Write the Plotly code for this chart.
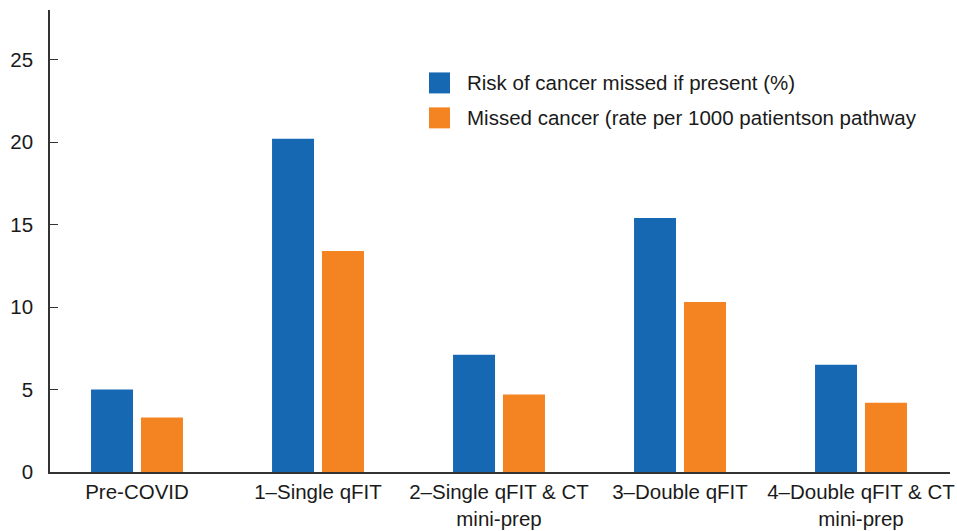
import plotly.graph_objects as go

categories = ["Pre-COVID", "1–Single qFIT", "2–Single qFIT & CT mini-prep",
              "3–Double qFIT", "4–Double qFIT & CT mini-prep"]
tick_labels = ["Pre-COVID", "1–Single qFIT", "2–Single qFIT & CT<br>mini-prep",
               "3–Double qFIT", "4–Double qFIT & CT<br>mini-prep"]
risk_missed = [5.0, 20.2, 7.1, 15.4, 6.5]
missed_rate = [3.3, 13.4, 4.7, 10.3, 4.2]
series_names = ["Risk of cancer missed if present (%)",
                "Missed cancer (rate per 1000 patientson pathway"]
y_ticks = [0, 5, 10, 15, 20, 25]

BLUE = "#1768B3"
ORANGE = "#F48322"
FONT = "Liberation Sans, Arial, Helvetica, sans-serif"
TXT = "#1a1a1a"

xs = list(range(len(categories)))
bw = 0.232

fig = go.Figure()
fig.add_trace(go.Bar(x=xs, y=risk_missed, name=series_names[0], marker_color=BLUE,
                     width=bw, offset=-0.254, marker_line_width=0))
fig.add_trace(go.Bar(x=xs, y=missed_rate, name=series_names[1], marker_color=ORANGE,
                     width=bw, offset=0.022, marker_line_width=0))

# plot area in pixels: x 50..950, y 9.5..472
L, R, T, B = 50, 950, 9.5, 472
W, H = R - L, B - T
def px(x):
    return (x - L) / W
def py(y):
    return (B - y) / H

swatches = [(72, 93, BLUE, 82.5), (107, 128, ORANGE, 117.5)]
for (top, bot, col, mid), name in zip(swatches, series_names):
    fig.add_shape(type="rect", xref="paper", yref="paper",
                  x0=px(429), x1=px(450), y0=py(bot), y1=py(top),
                  fillcolor=col, line_width=0)
    fig.add_annotation(xref="paper", yref="paper", x=px(465), y=py(mid),
                       text=name, showarrow=False, xanchor="left", yanchor="middle",
                       font=dict(family=FONT, size=20.5, color=TXT))

fig.update_layout(
    width=957, height=531,
    margin=dict(l=L, r=957 - R, t=T, b=531 - B, pad=0),
    plot_bgcolor="white", paper_bgcolor="white",
    showlegend=False,
    font=dict(family=FONT, size=20.5, color=TXT),
)
fig.update_xaxes(
    range=[(L - 137) / 181, (R - 137) / 181], tickvals=xs, ticktext=tick_labels,
    showline=True, linecolor="#333333", linewidth=1.5,
    ticks="", showgrid=False, zeroline=False, automargin=False,
    tickfont=dict(family=FONT, size=20.5, color=TXT),
    ticklabelstandoff=1, ticklabeloverflow="allow",
)
fig.update_yaxes(
    range=[0, 28], tickvals=y_ticks,
    showline=True, linecolor="#333333", linewidth=1.5,
    ticks="inside", ticklen=8, tickcolor="#333333", tickwidth=1.3,
    showgrid=False, zeroline=False, automargin=False,
    tickfont=dict(family=FONT, size=20.5, color=TXT),
    ticklabelstandoff=11,
)

fig.write_html("out.html", config={"displayModeBar": False},
               post_script="document.body.style.margin='0';document.body.style.overflow='hidden';")
